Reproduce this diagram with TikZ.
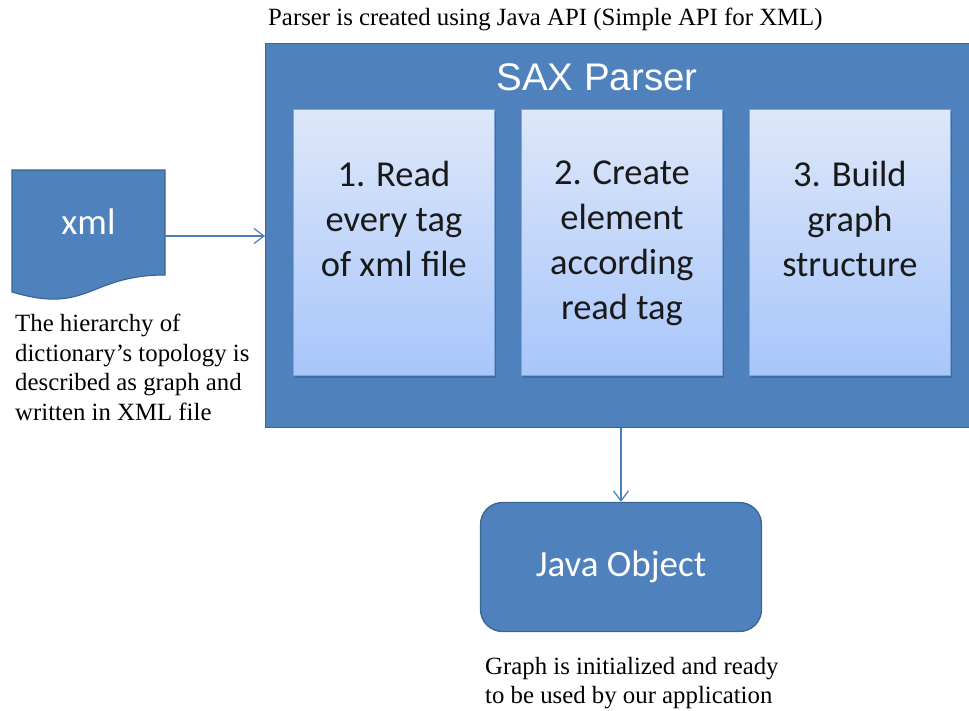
\documentclass[tikz,border=0pt]{standalone}
\usepackage{fontspec}
\setmainfont{Liberation Serif}
\newfontfamily\carlito{Carlito}
\newfontfamily\arialish{Liberation Sans}
\usetikzlibrary{shadows,arrows.meta,calc}

\definecolor{saxblue}{HTML}{4F81BD}
\definecolor{saxedge}{HTML}{3A6491}
\definecolor{steptop}{HTML}{DDE7F9}
\definecolor{stepbottom}{HTML}{A8C6FB}
\definecolor{stepedge}{HTML}{7EA4DC}
\definecolor{linkblue}{HTML}{4A7EBB}

\begin{document}
\begin{tikzpicture}[x=1pt,y=-1pt,
  panel/.style={draw=saxedge, line width=1.3pt, fill=saxblue, inner sep=0pt},
  stepbox/.style={draw=stepedge, line width=0.8pt, top color=steptop,
    bottom color=stepbottom, minimum width=201pt, minimum height=266pt,
    inner sep=0pt, anchor=north west,
    drop shadow={shadow xshift=1.5pt, shadow yshift=-2.5pt, opacity=0.35,
      fill=saxedge!70!black}},
  steptext/.style={anchor=north, align=center, inner sep=0pt,
    font=\carlito\fontsize{36.5}{45}\selectfont, text=black!90},
  whitetext/.style={text=white, font=\carlito\fontsize{37}{44}\selectfont},
  note/.style={anchor=north west, align=left, inner sep=0pt,
    font=\fontsize{24.8}{29.5}\selectfont, text=black},
  link/.style={draw=linkblue, line width=1.2pt,
    -{Straight Barb[length=10pt, width=15pt, line width=1.2pt]}},
]
\useasboundingbox (0,0) rectangle (969,710);

% caption over the parser
\node[note] (apinote) at (268,8) {Parser is created using Java API (Simple API for XML)};

% the SAX parser panel, running off the right edge
\node[panel, anchor=north west, minimum width=712pt, minimum height=384pt] (sax) at (265,43) {};
\node[text=white, anchor=base, font=\arialish\fontsize{38.5}{40}\selectfont] (saxtitle) at (597,90) {SAX Parser};

% the three parsing steps
\node[stepbox] (s1) at (293,109) {};
\node[stepbox] (s2) at (521,109) {};
\node[stepbox] (s3) at (749,109) {};
\node[steptext] (t1) at ($(s1.north)+(0,52)$) {1. Read\\every tag\\of xml file};
\node[steptext] (t2) at ($(s2.north)+(0,52)$) {2. Create\\element\\according\\read tag};
\node[steptext] (t3) at ($(s3.north)+(0,52)$) {3. Build\\graph\\structure};

% xml document symbol with a wavy lower edge
\draw[panel, line width=1.1pt] (12,170) -- (165,170) -- (165,275)
  .. controls (88.5,275) and (88.5,315) .. (12,292) -- cycle;
\node[whitetext, anchor=base] (xml) at (88.5,234) {xml};
\coordinate (xmlout) at (165,236);
\node[note] (xmlnote) at (15,314) {The hierarchy of\\dictionary’s topology is\\described as graph and\\written in XML file};

% resulting object
\node[panel, rounded corners=22pt, minimum width=281pt, minimum height=129pt,
  whitetext] (java) at (621,567) {Java Object};
\node[note] (javanote) at (485,657) {Graph is initialized and ready\\to be used by our application};

% connectors
\draw[link] (xmlout) -- (xmlout -| sax.west);
\draw[link] (sax.south -| java.north) -- (java.north);
\end{tikzpicture}
\end{document}
